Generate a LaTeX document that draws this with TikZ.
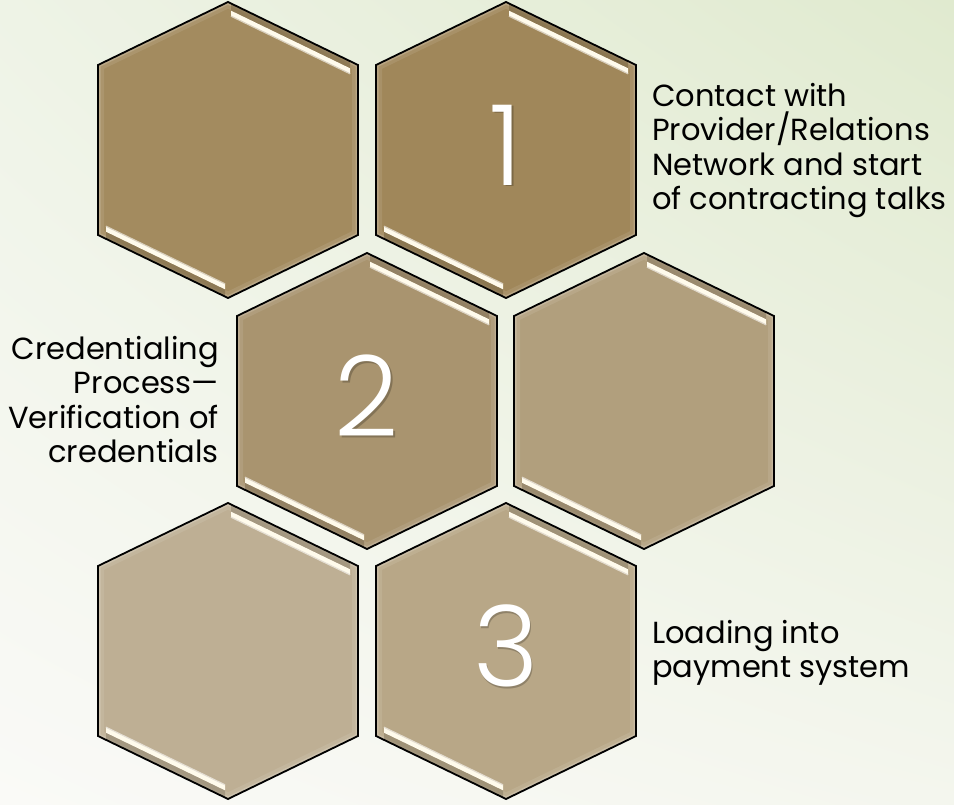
\documentclass[tikz,border=0pt]{standalone}
\usepackage{fontspec}
\setmainfont{Poppins}
\IfFontExistsTF{Poppins-Light.otf}
  {\newfontfamily\thinfont{Poppins-Light.otf}}
  {\IfFontExistsTF{Poppins Light}{\newfontfamily\thinfont{Poppins Light}}{\newfontfamily\thinfont{Poppins}}}
\usetikzlibrary{calc,shadings}
\definecolor{bgUL}{RGB}{238,243,230}
\definecolor{bgUR}{RGB}{224,234,207}
\definecolor{bgLL}{RGB}{250,250,247}
\definecolor{bgLR}{RGB}{244,246,238}
\definecolor{hexA}{RGB}{163,139,95}
\definecolor{hexB}{RGB}{160,135,90}
\definecolor{hexC}{RGB}{169,148,111}
\definecolor{hexD}{RGB}{177,159,125}
\definecolor{hexE}{RGB}{190,175,148}
\definecolor{hexF}{RGB}{184,167,135}
\definecolor{hilite}{RGB}{255,251,236}
\tikzset{
  hexborder/.style={draw=black, line width=1.8pt, line join=miter},
  lbl/.style={inner sep=0pt, text=black, font=\fontsize{30.5}{34.5}\selectfont},
  numlbl/.style={inner sep=0pt, text=white, font=\thinfont\fontsize{112}{112}\selectfont},
  numshadow/.style={inner sep=0pt, text=black, opacity=0.22, font=\thinfont\fontsize{112}{112}\selectfont},
}
\newcommand\hexpath{(0,148) -- (130,85) -- (130,-85) -- (0,-148) -- (-130,-85) -- (-130,85) -- cycle}
\newcommand\hexcell[3]{%
  \coordinate (#1) at (#2);
  \begin{scope}[shift={(#1)}]
    \fill[#3] \hexpath;
    \begin{scope}
      \clip \hexpath;
      \draw[#3!80!white, line width=12pt, opacity=0.45] \hexpath;
      \draw[#3!65!white, line width=5pt, opacity=0.6] \hexpath;
      % darker bevel strips next to the lit edges
      \fill[#3!80!black, opacity=0.7] (3,146.5) -- (122,88.9) -- (122,81.7) -- (3,139.3) -- cycle;
      \fill[#3!80!black, opacity=0.7] (-3,-146.5) -- (-122,-88.9) -- (-122,-81.7) -- (-3,-139.3) -- cycle;
    \end{scope}
    \fill[hilite] (3,139.3) -- (122,81.7) -- (122,76.2) -- (3,133.8) -- cycle;
    \fill[hilite] (-3,-139.3) -- (-122,-81.7) -- (-122,-76.2) -- (-3,-133.8) -- cycle;
    \draw[#3!40!white, line width=1.2pt] (3,133.8) -- (122,76.2);
    \draw[#3!40!white, line width=1.2pt] (-3,-133.8) -- (-122,-76.2);
    \draw[hexborder] \hexpath;
  \end{scope}}
\begin{document}
\begin{tikzpicture}[x=1pt,y=1pt]
\useasboundingbox (0,0) rectangle (954,804);
\shade[upper left=bgUL, upper right=bgUR, lower left=bgLL, lower right=bgLR] (0,0) rectangle (954,804);

\hexcell{hA}{228,654}{hexA}
\hexcell{h1}{506,654}{hexB}
\hexcell{h2}{367,403}{hexC}
\hexcell{hD}{644,403}{hexD}
\hexcell{hE}{228,153}{hexE}
\hexcell{h3}{506,153}{hexF}

\node[numshadow] (n1s) at ($(h1)+(1.5,3.5)$) {1};
\node[numlbl] (n1) at ($(h1)+(0,5)$) {1};
\node[numshadow] (n2s) at ($(h2)+(1.5,3.5)$) {2};
\node[numlbl] (n2) at ($(h2)+(0,5)$) {2};
\node[numshadow] (n3s) at ($(h3)+(1.5,3.5)$) {3};
\node[numlbl] (n3) at ($(h3)+(0,5)$) {3};

\node[lbl, anchor=north west, align=left] (t1) at (652,721)
  {Contact with\\Provider/Relations\\Network and start\\of contracting talks};
\node[lbl, anchor=north east, align=right] (t2) at (219,468)
  {Credentialing\\Process—\\Verification of\\credentials};
\node[lbl, anchor=north west, align=left] (t3) at (652,184)
  {Loading into\\payment system};
\end{tikzpicture}
\end{document}
